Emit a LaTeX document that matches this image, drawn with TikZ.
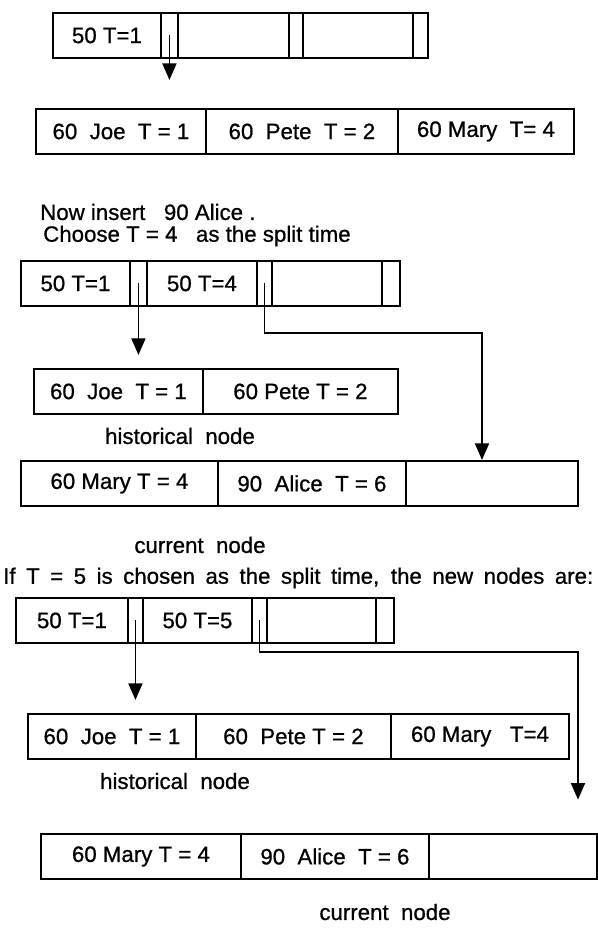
\documentclass[tikz,border=0pt]{standalone}
\usepackage{fontspec}
\setmainfont[FakeBold=0.8]{Liberation Sans}
\usetikzlibrary{arrows.meta}
\begin{document}
\begin{tikzpicture}[x=0.03cm,y=-0.03cm,
  cell/.style={draw, line width=1.6pt, inner sep=0pt, anchor=north west,
    minimum height=1.35cm, font=\fontsize{19}{21}\selectfont},
  cw/.style={minimum width=#1*0.03cm},
  lbl/.style={inner sep=0pt, font=\fontsize{19}{21}\selectfont},
  ptr/.style={line width=1.6pt, -{Triangle[width=0.42cm,length=0.5cm]}}]
\useasboundingbox (0,0) rectangle (598,932);
% ---- index node 1
\node[cell,cw=108] (a1)  at (52,12)  {50 T=1};
\node[cell,cw=17]  (a1s) at (160,12) {};
\node[cell,cw=111] (a2)  at (177,12) {};
\node[cell,cw=14]  (a2s) at (288,12) {};
\node[cell,cw=110] (a3)  at (302,12) {};
\node[cell,cw=15]  (a3s) at (412,12) {};
% ---- leaf 1
\node[cell,cw=170] (l1) at (35,108)  {60\ \ Joe\ \ T = 1};
\node[cell,cw=192] (l2) at (205,108) {60\ \ Pete\ \ T = 2};
\node[cell,cw=176] (l3) at (397,108) {60 Mary\ \ T= 4};
\draw[ptr, shorten >=0.84cm] (a1s.center) -- (a1s.center |- l1.north);
% ---- texts
\node[lbl, anchor=west] (t1) at (40,212) {Now\ insert\ \ \ 90\ Alice\ .};
\node[lbl, anchor=west] (t2) at (43,236) {Choose\ T = 4\ \ \ as the split time};
% ---- index node 2
\node[cell,cw=109] (b1)  at (20,260)  {50 T=1};
\node[cell,cw=17]  (b1s) at (129,260) {};
\node[cell,cw=110] (b2)  at (146,260) {50 T=4};
\node[cell,cw=15]  (b2s) at (256,260) {};
\node[cell,cw=110] (b3)  at (271,260) {};
\node[cell,cw=18]  (b3s) at (381,260) {};
% ---- historical node 1
\node[cell,cw=169] (h1) at (33,368)  {60\ \ Joe\ \ T = 1};
\node[cell,cw=195] (h2) at (202,368) {60 Pete T = 2};
\node[lbl] (hn1) at (180,436) {historical\ \ node};
% ---- current node 1
\node[cell,cw=197] (c1) at (20,460)  {60 Mary T = 4};
\node[cell,cw=188] (c2) at (217,460) {90\ \ Alice\ \ T = 6};
\node[cell,cw=172] (c3) at (405,460) {};
\node[lbl] (cn1) at (200,545) {current\ \ node};
\coordinate (r1) at (482,333);
\draw[ptr, shorten >=0.39cm] (b1s.center) -- (b1s.center |- h1.north);
\draw[ptr] (b2s.center) |- (r1) -- (r1 |- c3.north);
% ---- text
\node[lbl, anchor=west] (t3) at (3,578) {\makebox[17.7cm][s]{If T = 5 is chosen as the split time, the new nodes are:}};
% ---- index node 3
\node[cell,cw=112] (d1)  at (15,597)  {50 T=1};
\node[cell,cw=15]  (d1s) at (127,597) {};
\node[cell,cw=109] (d2)  at (142,597) {50 T=5};
\node[cell,cw=15]  (d2s) at (251,597) {};
\node[cell,cw=109] (d3)  at (266,597) {};
\node[cell,cw=18]  (d3s) at (375,597) {};
% ---- historical node 2
\node[cell,cw=168] (e1) at (27,713)  {60\ \ Joe\ \ T = 1};
\node[cell,cw=195] (e2) at (195,713) {60\ \ Pete T = 2};
\node[cell,cw=178] (e3) at (390,713) {60 Mary\ \ \ T=4};
\node[lbl] (hn2) at (175,781) {historical\ \ node};
% ---- current node 2
\node[cell,cw=200] (f1) at (40,833)  {60 Mary T = 4};
\node[cell,cw=188] (f2) at (240,833) {90\ \ Alice\ \ T = 6};
\node[cell,cw=168] (f3) at (428,833) {};
\node[lbl] (cn2) at (385,912) {current\ \ node};
\coordinate (r2) at (578,652);
\draw[ptr, shorten >=0.39cm] (d1s.center) -- (d1s.center |- e1.north);
\draw[ptr, shorten >=1cm] (d2s.center) |- (r2) -- (r2 |- f3.north);
\end{tikzpicture}
\end{document}
